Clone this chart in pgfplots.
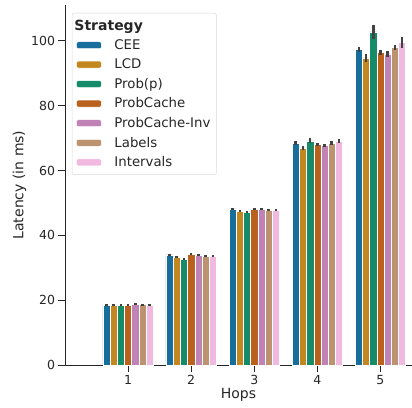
\documentclass[border=0pt]{standalone}
\usepackage{fontspec}
\setmainfont{DejaVu Sans}
\usepackage{pgfplots}
\pgfplotsset{compat=1.18}
\definecolor{cA}{HTML}{176D9C}
\definecolor{cB}{HTML}{C38720}
\definecolor{cC}{HTML}{168B6A}
\definecolor{cD}{HTML}{BA611B}
\definecolor{cE}{HTML}{C183B5}
\definecolor{cF}{HTML}{BD926E}
\definecolor{cG}{HTML}{F1B8E0}
\definecolor{txt}{HTML}{262626}
\definecolor{errc}{HTML}{424242}
\begin{document}
\begin{tikzpicture}
\begin{axis}[
  at={(0,0)}, anchor=south west,
  scale only axis, width=347bp, height=360bp,
  xmin=0, xmax=5.5, ymin=0, ymax=111.1,
  axis x line*=bottom, axis y line*=left,
  axis line style={txt, line width=1pt, -},
  xtick={1,2,3,4,5}, ytick={0,20,40,60,80,100},
  tick style={txt, line width=1pt},
  tick align=outside, major tick length=6.5bp,
  tick label style={font=\fontsize{12.5bp}{15bp}\selectfont, text=txt},
  /pgf/number format/assume math mode=true,
  xlabel={Hops}, ylabel={Latency (in ms)},
  label style={font=\fontsize{14bp}{16bp}\selectfont, text=txt},
  xlabel style={yshift=3bp},
  ylabel style={yshift=-2bp},
  ybar=0pt, bar width=0.1143,
  legend cell align=left,
  legend style={at={(7bp,352bp)}, anchor=north west, draw=black!15, rounded corners=2pt,
    font=\fontsize{13.3bp}{15bp}\selectfont, text=txt, row sep=4bp, inner xsep=4bp, inner ysep=4.5bp},
  legend image code/.code={\fill[#1] (0bp,-3.5bp) rectangle (25bp,3.5bp); \path[draw=none,fill=none] (0bp,0bp) -- (36bp,0bp);},
  error bars/y dir=both, error bars/y explicit,
  error bars/error mark=none,
  error bars/error bar style={errc, line width=2.6pt},
]
\addlegendimage{empty legend}
\addlegendentry{\hspace{-40bp}\fontsize{14bp}{16bp}\selectfont\bfseries Strategy}
\addplot[fill=cA, draw=white, line width=0.5bp] coordinates {(1,18.5)+-(0,0.3) (2,34.0)+-(0,0.3) (3,48.2)+-(0,0.3) (4,68.5)+-(0,0.5) (5,97.3)+-(0,0.8)};
\addlegendentry{CEE}
\addplot[fill=cB, draw=white, line width=0.5bp] coordinates {(1,18.4)+-(0,0.3) (2,33.4)+-(0,0.3) (3,47.4)+-(0,0.3) (4,67.0)+-(0,0.6) (5,94.8)+-(0,1.2)};
\addlegendentry{LCD}
\addplot[fill=cC, draw=white, line width=0.5bp] coordinates {(1,18.4)+-(0,0.3) (2,32.6)+-(0,0.3) (3,47.2)+-(0,0.3) (4,69.2)+-(0,0.8) (5,102.8)+-(0,2.2)};
\addlegendentry{Prob(p)}
\addplot[fill=cD, draw=white, line width=0.5bp] coordinates {(1,18.5)+-(0,0.3) (2,34.2)+-(0,0.3) (3,48.0)+-(0,0.3) (4,68.0)+-(0,0.5) (5,96.5)+-(0,0.8)};
\addlegendentry{ProbCache}
\addplot[fill=cE, draw=white, line width=0.5bp] coordinates {(1,18.7)+-(0,0.3) (2,34.0)+-(0,0.3) (3,48.1)+-(0,0.3) (4,67.8)+-(0,0.5) (5,96.0)+-(0,0.8)};
\addlegendentry{ProbCache-Inv}
\addplot[fill=cF, draw=white, line width=0.5bp] coordinates {(1,18.6)+-(0,0.3) (2,33.5)+-(0,0.3) (3,47.8)+-(0,0.3) (4,68.5)+-(0,0.5) (5,98.0)+-(0,0.8)};
\addlegendentry{Labels}
\addplot[fill=cG, draw=white, line width=0.5bp] coordinates {(1,18.5)+-(0,0.3) (2,33.5)+-(0,0.3) (3,47.8)+-(0,0.3) (4,69.0)+-(0,0.6) (5,99.5)+-(0,1.6)};
\addlegendentry{Intervals}
\end{axis}
\pgfresetboundingbox
\path[use as bounding box] (-65bp,-43bp) rectangle (347bp,365bp);
\end{tikzpicture}
\end{document}
